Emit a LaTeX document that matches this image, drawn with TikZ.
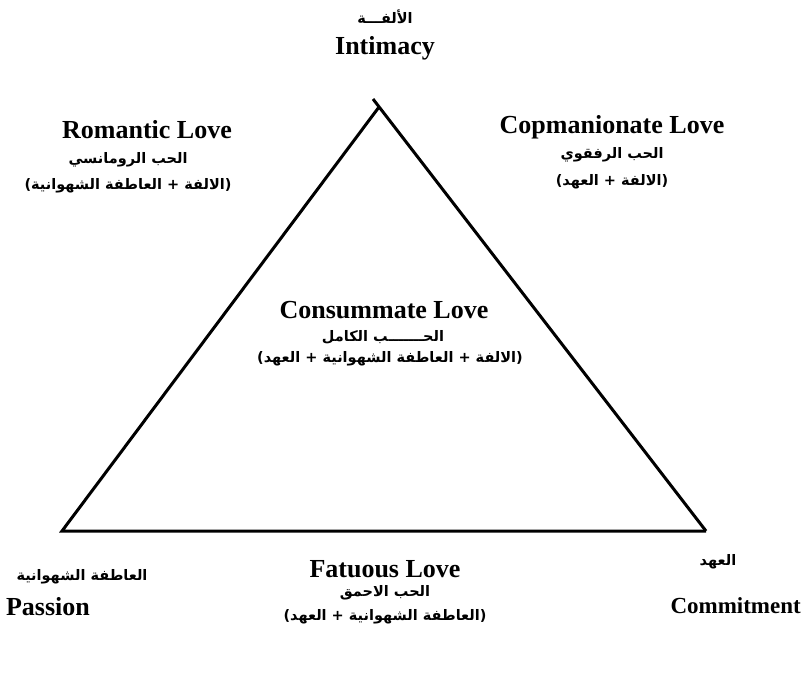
\documentclass[tikz,border=0pt]{standalone}
\usepackage{fontspec}
\setmainfont{Liberation Serif}
\newfontfamily\arabicfont[Script=Arabic]{DejaVu Sans}
\TeXXeTstate=1
\usetikzlibrary{positioning}
\newcommand{\artext}[1]{\arabicfont\beginR #1\endR}
\tikzset{
    side style/.style={line width=3pt,line join=miter},
    name label/.style={font=\fontsize{26}{30}\selectfont\bfseries,inner sep=0pt},
    arabic label/.style={font=\fontsize{14.5}{17}\selectfont\bfseries,inner sep=0pt},
}

\begin{document}
\begin{tikzpicture}[x=1pt,y=-1pt]
        \useasboundingbox (0,0) rectangle (805,673);
        \coordinate (I) at (379,107);
        \coordinate (Itick) at (373,99);
        \coordinate (P) at (62,531);
        \coordinate (C) at (706,531);
        \draw[side style] (I) -- (P) -- (C);
        \draw[side style] (Itick) -- (C);
        % corners
        \node[arabic label] (intimacyar) at (385,17) {\artext{الألفـــة}};
        \node[name label] (intimacy) at (385,48) {Intimacy};
        \node[arabic label] (passionar) at (82,577) {\artext{العاطفة الشهوانية}};
        \node[name label] (passion) at (48,607) {Passion};
        \node[arabic label] (commitmentar) at (718,562) {\artext{العهد}};
        \node[name label,font=\fontsize{23}{28}\selectfont\bfseries,anchor=east] (commitment) at (801,606) {Commitment};
        % kinds of love
        \node[name label] (romantic) at (147,130) {Romantic Love};
        \node[arabic label] (romanticar) at (128,160) {\artext{الحب الرومانسي}};
        \node[arabic label] (romanticsum) at (128,186) {\artext{(الالفة + العاطفة الشهوانية)}};
        \node[name label] (companion) at (612,127) {Copmanionate Love};
        \node[arabic label] (companionar) at (612,155) {\artext{الحب الرفقوي}};
        \node[arabic label] (companionsum) at (612,182) {\artext{(الالفة + العهد)}};
        \node[name label] (consummate) at (384,310) {Consummate Love};
        \node[arabic label] (consummatear) at (383,337) {\artext{الحـــــــب الكامل}};
        \node[arabic label] (consummatesum) at (390,359) {\artext{(الالفة + العاطفة الشهوانية + العهد)}};
        \node[name label] (fatuous) at (385,569) {Fatuous Love};
        \node[arabic label] (fatuousar) at (385,593) {\artext{الحب الاحمق}};
        \node[arabic label] (fatuoussum) at (385,617) {\artext{(العاطفة الشهوانية + العهد)}};
\end{tikzpicture}
\end{document}
